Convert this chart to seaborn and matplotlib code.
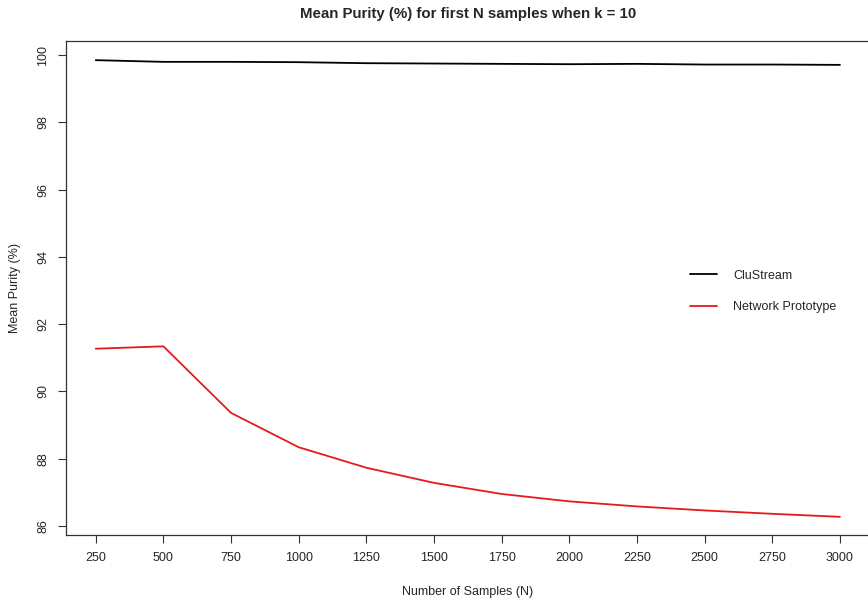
import numpy as np
import pandas as pd
import matplotlib
matplotlib.use("Agg")
import matplotlib.pyplot as plt
import seaborn as sns

samples = [250, 500, 750, 1000, 1250, 1500, 1750, 2000, 2250, 2500, 2750, 3000]
clustream = [99.85, 99.80, 99.80, 99.79, 99.76, 99.75, 99.74, 99.73, 99.74, 99.72, 99.72, 99.71]
network_prototype = [91.27, 91.34, 89.36, 88.34, 87.73, 87.28, 86.95, 86.73, 86.58, 86.46, 86.36, 86.27]
series_names = ["CluStream", "Network Prototype"]
y_ticks = [86, 88, 90, 92, 94, 96, 98, 100]

df = pd.DataFrame({
    "N": samples * 2,
    "purity": clustream + network_prototype,
    "method": [series_names[0]] * len(samples) + [series_names[1]] * len(samples),
})

sns.set_theme(style="white")
plt.rcParams["font.family"] = ["Liberation Sans", "DejaVu Sans"]

fig = plt.figure(figsize=(8.68, 6.01), dpi=100)
ax = fig.add_axes([66 / 868, 1 - 535 / 601, (869.7 - 66) / 868, (535 - 41) / 601])

sns.lineplot(data=df, x="N", y="purity", hue="method",
             palette={"CluStream": "black", "Network Prototype": "#e41a1c"},
             linewidth=1.3, ax=ax)

ax.set_xlim(140, 3110)
ax.set_ylim(85.73, 100.42)
ax.set_xticks(samples)
ax.set_xticklabels([str(s) for s in samples])
ax.set_yticks(y_ticks)
ax.set_yticklabels([str(t) for t in y_ticks], rotation=90, va="center")
ax.tick_params(axis="both", direction="out", length=6, width=0.8, color="#333333",
               labelsize=9, bottom=True, left=True, pad=6)
for sp in ax.spines.values():
    sp.set_color("#333333")
    sp.set_linewidth(0.9)

ax.set_xlabel("Number of Samples (N)", fontsize=9, labelpad=16)
ax.set_ylabel("Mean Purity (%)", fontsize=9, labelpad=12)
fig.suptitle("Mean Purity (%) for first N samples when k = 10", fontsize=10.8,
             fontweight="bold", x=(66 + 869.7) / 2 / 868, y=0.988)

leg = ax.legend(loc="upper left", bbox_to_anchor=(0.762, 0.56), frameon=False,
                fontsize=9, handlelength=2.2, handletextpad=1.3, labelspacing=1.55)

fig.savefig("out.png", dpi=100)
